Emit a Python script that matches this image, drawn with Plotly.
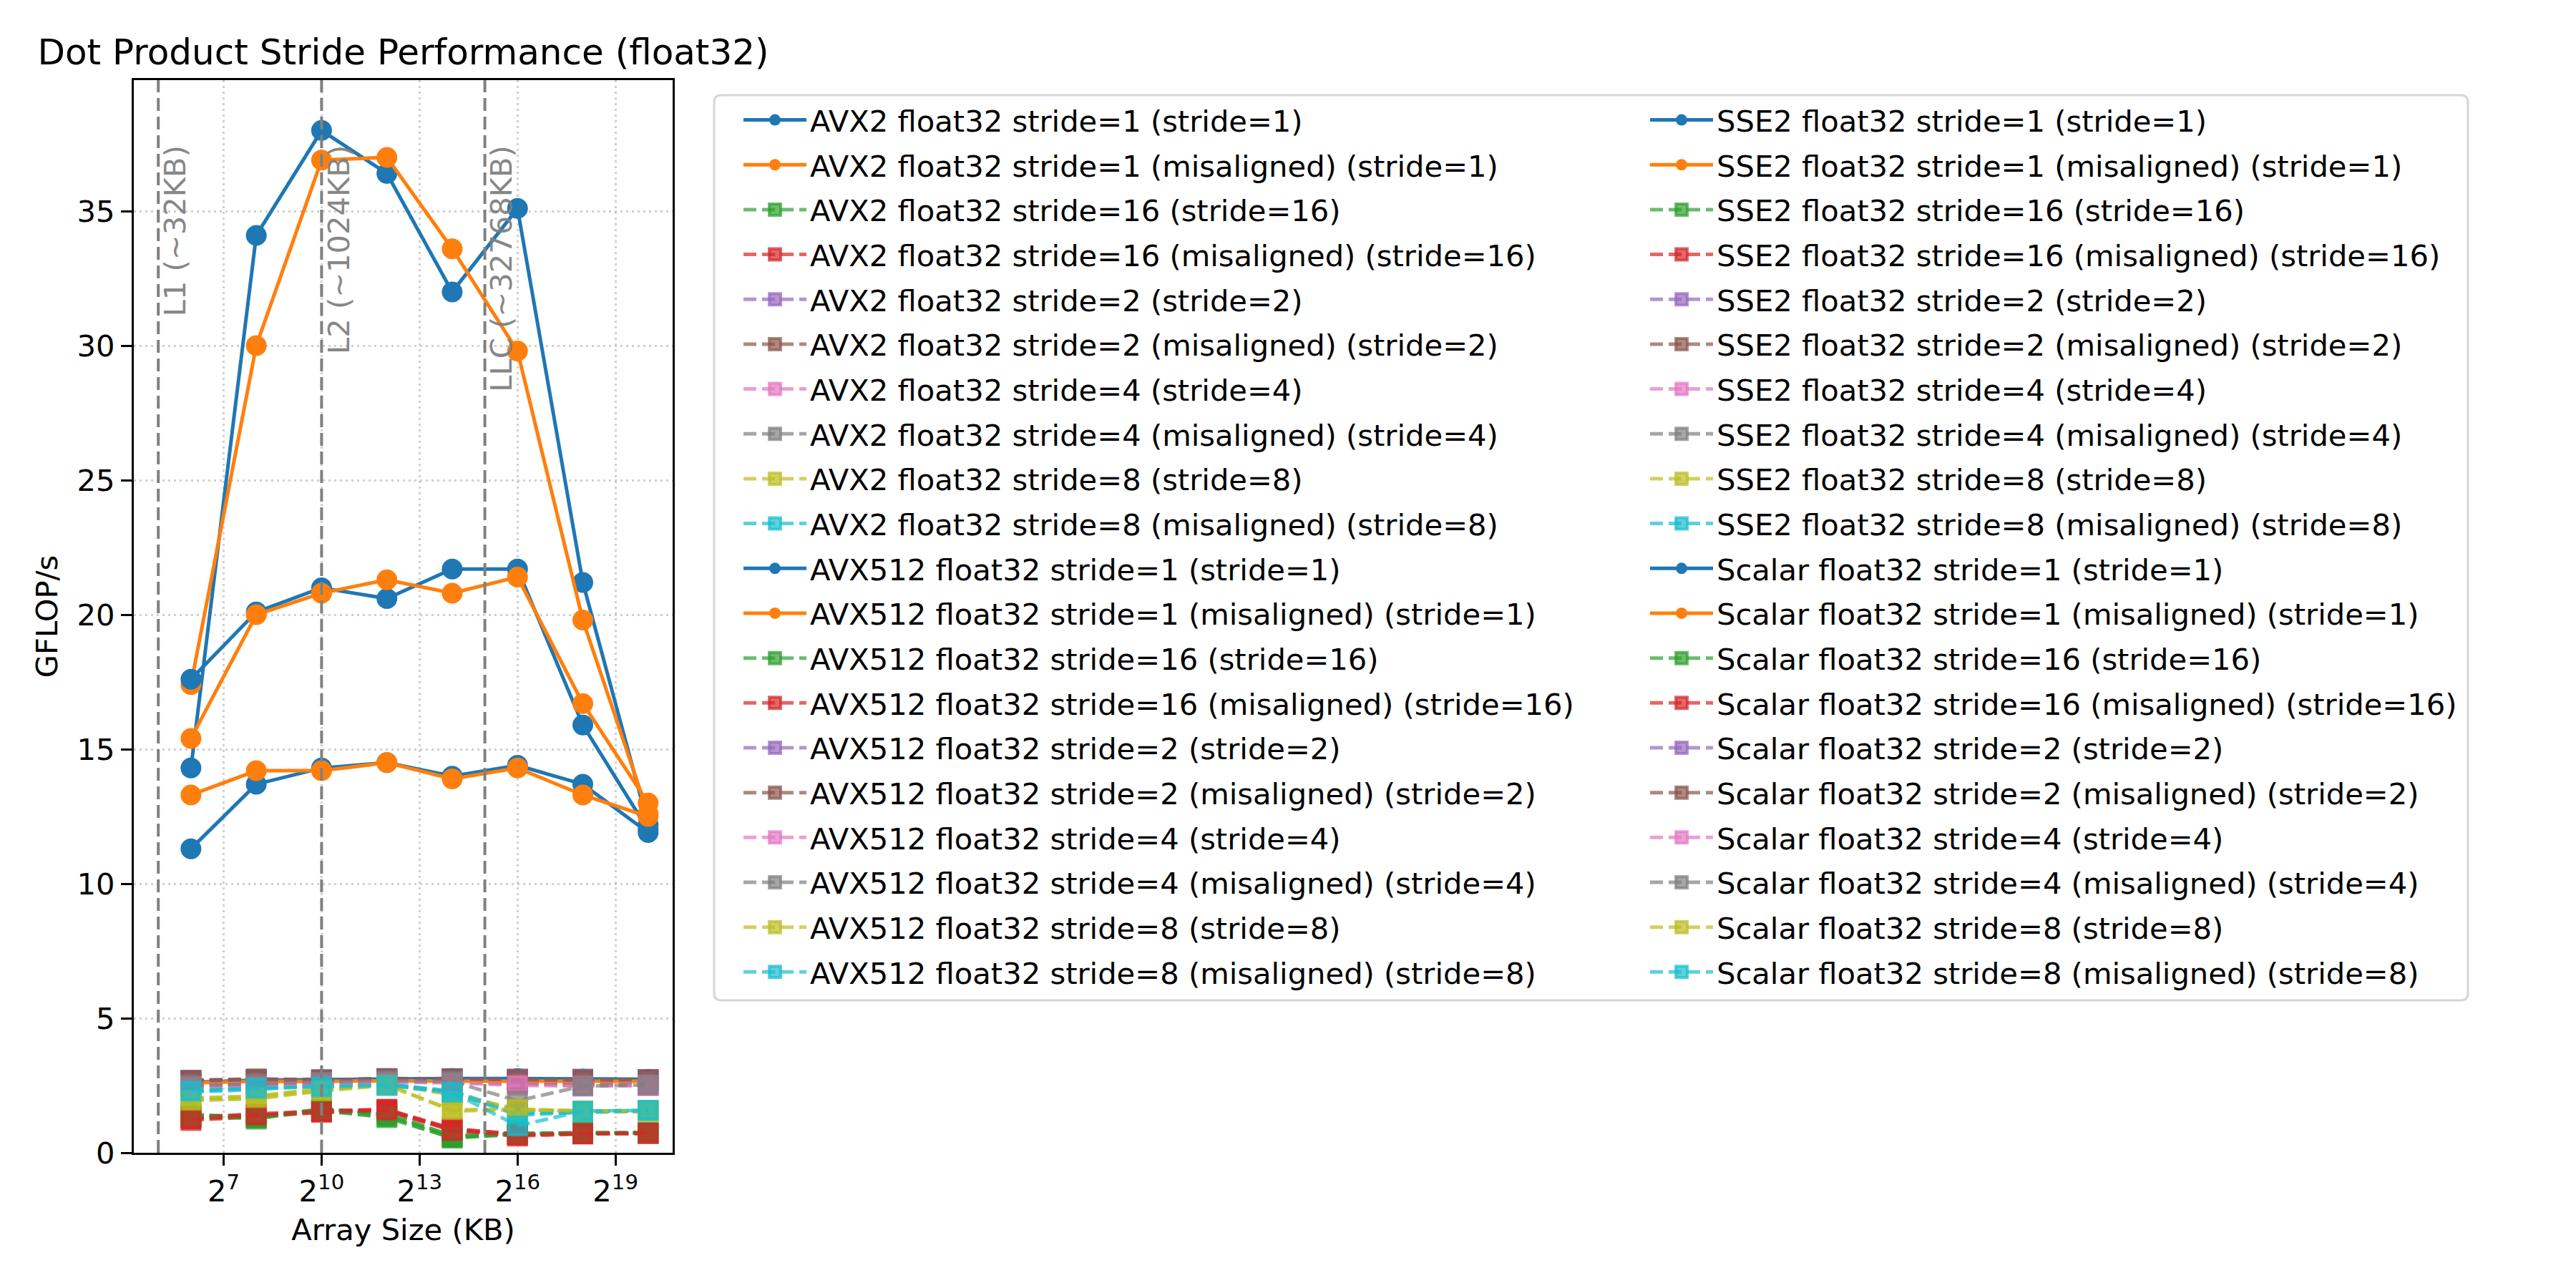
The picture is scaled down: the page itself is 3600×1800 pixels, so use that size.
import numpy as np
import plotly.graph_objects as go

# ---------------- data ----------------
sizes_kb = [64, 256, 1024, 4096, 16384, 65536, 262144, 1048576]

isa_names = ["AVX2", "AVX512", "SSE2", "Scalar"]
stride_variants = [("1", False), ("1", True), ("16", False), ("16", True),
                   ("2", False), ("2", True), ("4", False), ("4", True),
                   ("8", False), ("8", True)]

# AVX2
avx2_s1 = [14.3, 34.1, 38.0, 36.4, 32.0, 35.1, 21.2, 12.2]
avx2_s1_mis = [17.4, 30.0, 36.9, 37.0, 33.6, 29.8, 19.8, 12.6]
avx2_s16 = [1.30, 1.30, 1.55, 1.35, 0.55, 0.68, 0.72, 0.74]
avx2_s16_mis = [1.20, 1.35, 1.50, 1.55, 0.85, 0.62, 0.70, 0.72]
avx2_s2 = [2.62, 2.70, 2.68, 2.74, 2.72, 2.72, 2.70, 2.70]
avx2_s2_mis = [2.66, 2.72, 2.70, 2.74, 2.74, 2.70, 2.72, 2.70]
avx2_s4 = [2.50, 2.55, 2.62, 2.66, 2.62, 2.55, 2.55, 2.52]
avx2_s4_mis = [2.55, 2.60, 2.62, 2.68, 2.70, 2.60, 2.58, 2.55]
avx2_s8 = [1.95, 2.00, 2.30, 2.55, 1.55, 1.60, 1.55, 1.55]
avx2_s8_mis = [2.30, 2.40, 2.50, 2.55, 2.25, 1.45, 1.52, 1.55]

# AVX512
avx512_s1 = [17.6, 20.1, 21.0, 20.6, 21.7, 21.7, 15.9, 12.0]
avx512_s1_mis = [15.4, 20.0, 20.8, 21.3, 20.8, 21.4, 16.7, 13.0]
avx512_s16 = [1.40, 1.35, 1.60, 1.50, 0.60, 0.70, 0.72, 0.74]
avx512_s16_mis = [1.35, 1.40, 1.55, 1.60, 0.90, 0.68, 0.72, 0.72]
avx512_s2 = [2.68, 2.72, 2.70, 2.76, 2.74, 2.74, 2.72, 2.72]
avx512_s2_mis = [2.70, 2.74, 2.72, 2.74, 2.76, 2.72, 2.74, 2.72]
avx512_s4 = [2.45, 2.50, 2.60, 2.65, 2.64, 2.58, 2.50, 2.50]
avx512_s4_mis = [2.50, 2.55, 2.60, 2.66, 2.70, 2.62, 2.55, 2.52]
avx512_s8 = [2.00, 2.10, 2.35, 2.55, 2.20, 1.62, 1.55, 1.55]
avx512_s8_mis = [2.35, 2.45, 2.52, 2.55, 2.30, 1.50, 1.55, 1.58]

# SSE2
sse2_s1 = [11.3, 13.7, 14.3, 14.5, 14.0, 14.4, 13.7, 11.9]
sse2_s1_mis = [13.3, 14.2, 14.2, 14.5, 13.9, 14.3, 13.3, 12.5]
sse2_s16 = [1.45, 1.25, 1.65, 1.40, 0.65, 0.72, 0.74, 0.74]
sse2_s16_mis = [1.30, 1.45, 1.55, 1.62, 0.88, 0.70, 0.70, 0.72]
sse2_s2 = [2.65, 2.70, 2.72, 2.74, 2.74, 2.74, 2.72, 2.72]
sse2_s2_mis = [2.68, 2.74, 2.70, 2.76, 2.74, 2.72, 2.72, 2.70]
sse2_s4 = [2.48, 2.52, 2.60, 2.64, 2.62, 2.55, 2.52, 2.50]
sse2_s4_mis = [2.52, 2.58, 2.62, 2.68, 2.68, 2.58, 2.55, 2.55]
sse2_s8 = [2.05, 2.10, 2.40, 2.55, 2.15, 1.58, 1.55, 1.55]
sse2_s8_mis = [2.25, 2.35, 2.50, 2.55, 2.25, 1.40, 1.50, 1.55]

# Scalar
scalar_s1 = [2.62, 2.70, 2.72, 2.75, 2.76, 2.76, 2.74, 2.73]
scalar_s1_mis = [2.60, 2.66, 2.65, 2.68, 2.66, 2.66, 2.66, 2.66]
scalar_s16 = [1.35, 1.30, 1.58, 1.30, 0.55, 0.72, 0.75, 0.75]
scalar_s16_mis = [1.25, 1.40, 1.52, 1.58, 0.82, 0.66, 0.72, 0.74]
scalar_s2 = [2.66, 2.72, 2.70, 2.74, 2.74, 2.72, 2.72, 2.70]
scalar_s2_mis = [2.68, 2.72, 2.70, 2.74, 2.74, 2.72, 2.70, 2.72]
scalar_s4 = [2.45, 2.48, 2.58, 2.62, 2.60, 2.50, 2.48, 2.50]
scalar_s4_mis = [2.50, 2.55, 2.62, 2.68, 2.65, 1.93, 2.48, 2.52]
scalar_s8 = [1.95, 2.05, 2.30, 2.50, 1.60, 1.62, 1.55, 1.55]
scalar_s8_mis = [2.30, 2.40, 2.45, 2.50, 2.25, 1.00, 1.55, 1.58]

isa_series = {
    "AVX2": [avx2_s1, avx2_s1_mis, avx2_s16, avx2_s16_mis, avx2_s2, avx2_s2_mis,
             avx2_s4, avx2_s4_mis, avx2_s8, avx2_s8_mis],
    "AVX512": [avx512_s1, avx512_s1_mis, avx512_s16, avx512_s16_mis, avx512_s2, avx512_s2_mis,
               avx512_s4, avx512_s4_mis, avx512_s8, avx512_s8_mis],
    "SSE2": [sse2_s1, sse2_s1_mis, sse2_s16, sse2_s16_mis, sse2_s2, sse2_s2_mis,
             sse2_s4, sse2_s4_mis, sse2_s8, sse2_s8_mis],
    "Scalar": [scalar_s1, scalar_s1_mis, scalar_s16, scalar_s16_mis, scalar_s2, scalar_s2_mis,
               scalar_s4, scalar_s4_mis, scalar_s8, scalar_s8_mis],
}

cache_sizes_kb = [32, 1024, 32768]
cache_labels = ["L1 (~32KB)", "L2 (~1024KB)", "LLC (~32768KB)"]
x_tick_exponents = [7, 10, 13, 16, 19]
y_ticks = [0, 5, 10, 15, 20, 25, 30, 35]

# ---------------- style ----------------
tab10 = ["#1f77b4", "#ff7f0e", "#2ca02c", "#d62728", "#9467bd",
         "#8c564b", "#e377c2", "#7f7f7f", "#bcbd22", "#17becf"]


def rgba(hexc, a):
    h = hexc.lstrip("#")
    r, g, b = int(h[0:2], 16), int(h[2:4], 16), int(h[4:6], 16)
    return f"rgba({r},{g},{b},{a})"


W, H = 3600, 1800
PL, PR, PT, PB = 187, 940, 112, 1611   # plot area in pixels
FONT = "DejaVu Sans"
FS = 41.67
Y_MAX = 39.87
X_RANGE = [4.25 * np.log10(2), 20.75 * np.log10(2)]


def px_to_paper_x(p):
    return (p - PL) / (PR - PL)


def px_to_paper_y(p):
    return (PB - p) / (PB - PT)


fig = go.Figure()

for gi, isa in enumerate(isa_names):
    legend_name = "legend" if gi < 2 else "legend2"
    for vi, (stride, mis) in enumerate(stride_variants):
        vals = isa_series[isa][vi]
        label = f"{isa} float32 stride={stride}" + (" (misaligned)" if mis else "") + f" (stride={stride})"
        col = tab10[vi]
        if stride == "1":
            line = dict(color=col, width=5)
            marker = dict(symbol="circle", size=29, color=col, line=dict(width=0))
        else:
            line = dict(color=rgba(col, 0.7), width=5, dash="18px,8px")
            marker = dict(symbol="square", size=25, color=rgba(col, 0.7),
                          line=dict(color=rgba(col, 0.7), width=4))
        fig.add_trace(go.Scatter(
            x=sizes_kb, y=vals, mode="lines+markers", name=label,
            line=line, marker=marker, legend=legend_name,
            legendgroup=f"g{gi}_{vi}",
        ))

# cache-size reference lines
for cs in cache_sizes_kb:
    fig.add_trace(go.Scatter(
        x=[cs, cs], y=[0, Y_MAX], mode="lines", showlegend=False,
        line=dict(color="rgba(128,128,128,1)", width=4, dash="18px,8px"),
        hoverinfo="skip",
    ))

annotations = []
for cs, lab in zip(cache_sizes_kb, cache_labels):
    annotations.append(dict(
        x=np.log10(cs), y=37.5, xref="x", yref="y", text=lab, textangle=-90,
        xanchor="left", yanchor="top", showarrow=False, xshift=-3,
        font=dict(family=FONT, size=FS, color="rgba(128,128,128,0.95)"),
    ))

# legend frame (single box around both columns, like matplotlib)
bx0, bx1, by0, by1, rr = 998, 3449, 133, 1398, 10
px = px_to_paper_x
py = px_to_paper_y
path = (f"M {px(bx0 + rr)} {py(by0)} L {px(bx1 - rr)} {py(by0)} "
        f"Q {px(bx1)} {py(by0)} {px(bx1)} {py(by0 + rr)} "
        f"L {px(bx1)} {py(by1 - rr)} Q {px(bx1)} {py(by1)} {px(bx1 - rr)} {py(by1)} "
        f"L {px(bx0 + rr)} {py(by1)} Q {px(bx0)} {py(by1)} {px(bx0)} {py(by1 - rr)} "
        f"L {px(bx0)} {py(by0 + rr)} Q {px(bx0)} {py(by0)} {px(bx0 + rr)} {py(by0)} Z")
shapes = [dict(type="path", xref="paper", yref="paper", path=path,
               line=dict(color="#d6d6d6", width=3), fillcolor="white", layer="below")]

legend_common = dict(
    xanchor="left", yanchor="top", bgcolor="rgba(0,0,0,0)", borderwidth=0,
    font=dict(family=FONT, size=FS, color="black"),
    itemwidth=88, traceorder="grouped", tracegroupgap=5.5,
    itemclick=False, itemdoubleclick=False,
)

fig.update_layout(
    width=W, height=H,
    margin=dict(l=PL, r=W - PR, t=PT, b=H - PB, pad=0),
    paper_bgcolor="white", plot_bgcolor="white",
    font=dict(family=FONT, size=FS, color="black"),
    title=dict(text="Dot Product Stride Performance (float32)",
               x=px_to_paper_x((PL + PR) / 2), xref="paper", xanchor="center",
               y=1 - 72 / H, yref="container", yanchor="middle",
               font=dict(family=FONT, size=50, color="black")),
    legend=dict(x=px(1034), y=py(134), **legend_common),
    legend2=dict(x=px(2301), y=py(134), **legend_common),
    shapes=shapes,
    annotations=annotations,
    xaxis=dict(
        type="log", range=X_RANGE,
        tickvals=[2 ** e for e in x_tick_exponents],
        ticktext=[f"2<sup>{e}</sup>" for e in x_tick_exponents],
        ticks="outside", ticklen=15, tickwidth=3.3, tickcolor="black",
        showline=True, linecolor="black", linewidth=3.3, mirror=True,
        showgrid=True, gridcolor="rgba(176,176,176,0.6)", gridwidth=3, griddash="3px,5px",
        zeroline=False,
        title=dict(text="Array Size (KB)", standoff=16, font=dict(family=FONT, size=FS)),
        tickfont=dict(family=FONT, size=FS),
        automargin=False,
    ),
    yaxis=dict(
        range=[0, Y_MAX], tickvals=y_ticks,
        ticks="outside", ticklen=15, tickwidth=3.3, tickcolor="black",
        showline=True, linecolor="black", linewidth=3.3, mirror=True,
        showgrid=True, gridcolor="rgba(176,176,176,0.6)", gridwidth=3, griddash="3px,5px",
        zeroline=False,
        title=dict(text="GFLOP/s", standoff=14, font=dict(family=FONT, size=FS)),
        tickfont=dict(family=FONT, size=FS),
        automargin=False,
    ),
)

fig.write_html("out.html")
